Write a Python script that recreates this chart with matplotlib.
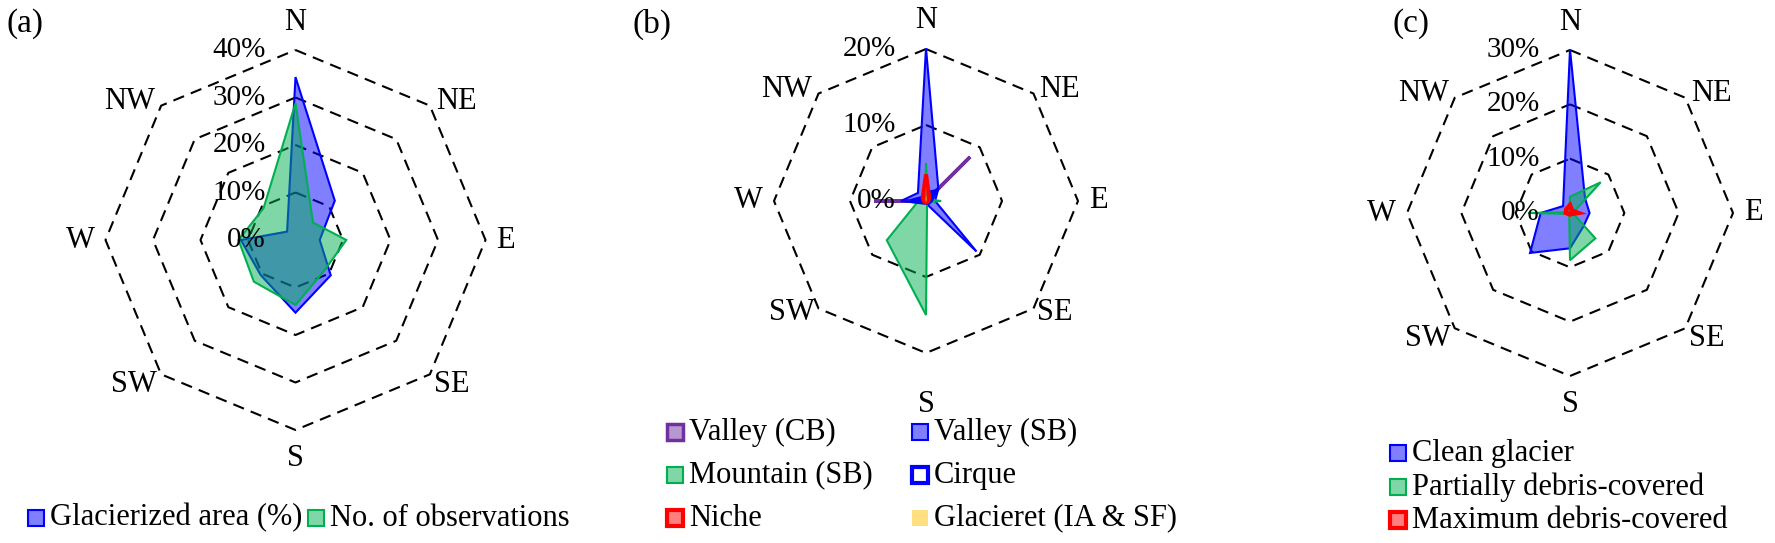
import numpy as np
import matplotlib
matplotlib.use("Agg")
import matplotlib.pyplot as plt
from matplotlib.patches import Rectangle

plt.rcParams['font.family'] = ['Liberation Serif', 'DejaVu Serif']

# ---------------- data ----------------
directions = ["N", "NE", "E", "SE", "S", "SW", "W", "NW"]

# panel (a)
a_ticks = [0, 10, 20, 30, 40]
a_glacierized_area = [34.3, 11.7, 5.1, 10.5, 15.3, 10.4, 11.5, 2.5]
a_observations = [28.8, 5.2, 10.7, 8.8, 13.7, 12.4, 12.0, 9.5]
a_series_names = ["Glacierized area (%)", "No. of observations"]

# panel (b)
b_ticks = [0, 10, 20]
b_valley_cb = [0.0, 8.2, 0.0, 0.0, 0.0, 0.0, 6.8, 0.0]
b_valley_sb = [20.1, 2.3, 1.2, 9.4, 0.3, 0.4, 3.3, 1.5]
b_mountain_sb = [5.0, 0.3, 2.0, 0.2, 15.0, 7.3, 1.0, 0.2]
b_cirque = [1.0, 1.8, 0.6, 0.4, 0.2, 0.3, 2.0, 0.6]
b_niche = [3.5, 0.6, 0.3, 0.2, 0.2, 0.2, 0.3, 0.6]
b_glacieret = [2.0, 0.2, 0.1, 0.1, 0.1, 0.1, 0.1, 0.2]
b_series_names = ["Valley (CB)", "Valley (SB)", "Mountain (SB)", "Cirque",
                  "Niche", "Glacieret (IA & SF)"]

# panel (c)
c_ticks = [0, 10, 20, 30]
c_clean = [30.1, 3.9, 3.6, 3.5, 6.5, 10.4, 5.4, 1.8]
c_partial = [3.0, 8.0, 0.5, 6.6, 8.7, 0.2, 7.7, 0.2]
c_maximum = [1.5, 0.6, 1.6, 0.3, 0.3, 0.3, 0.8, 1.0]
c_series_names = ["Clean glacier", "Partially debris-covered", "Maximum debris-covered"]

# ---------------- style ----------------
BLUE = "#0000FF"
GREEN = "#00B050"
PURPLE = "#7030A0"
RED = "#FF0000"
YELLOW = "#FFC000"

W, H = 1775, 543
fig = plt.figure(figsize=(W / 100, H / 100), dpi=100)

theta = np.deg2rad(np.arange(len(directions)) * 45.0)


def closed_xy(vals):
    v = np.asarray(vals, dtype=float)
    x = v * np.sin(theta)
    y = v * np.cos(theta)
    return np.append(x, x[0]), np.append(y, y[0])


def make_panel(cx, cy, vmax, rpx, hw):
    k = rpx / vmax
    ax = fig.add_axes([(cx - hw) / W, 0, 2 * hw / W, 1])
    ax.set_xlim(-hw / k, hw / k)
    ax.set_ylim(-(H - cy) / k, cy / k)
    ax.axis('off')
    return ax


BASE_OFFS = {
    "N": ((0, 28), 'center', 'center'),
    "NE": ((6, 4), 'left', 'center'),
    "E": ((11, 0), 'left', 'center'),
    "SE": ((4, -10), 'left', 'center'),
    "S": ((0, -28), 'center', 'center'),
    "SW": ((-4, -10), 'right', 'center'),
    "W": ((-11, 0), 'right', 'center'),
    "NW": ((-6, 4), 'right', 'center'),
}


def draw_grid(ax, ticks, override=None):
    offs = dict(BASE_OFFS)
    if override:
        offs.update(override)
    for t in ticks[1:]:
        x, y = closed_xy([t] * len(directions))
        ax.plot(x, y, color='black', lw=1.5, ls=(0, (5.5, 3.5)), zorder=1)
    vmax = ticks[-1]
    px = 0.72
    for d, th in zip(directions, theta):
        (ox, oy), ha, va = offs[d]
        ax.annotate(d, xy=(vmax * np.sin(th), vmax * np.cos(th)),
                    xytext=(ox * px, oy * px), textcoords='offset points',
                    ha=ha, va=va, fontsize=22, zorder=5)
    for t in ticks:
        ax.annotate(f"{t}%", xy=(0, t), xytext=(-30 * px, 0),
                    textcoords='offset points', ha='right', va='center',
                    fontsize=21, zorder=5)


def series(ax, vals, color, lw=1.5, alpha=0.5, fill=True, edge=True, z=2):
    x, y = closed_xy(vals)
    fc = matplotlib.colors.to_rgba(color, alpha) if fill else 'none'
    ec = color if edge else 'none'
    ax.fill(x, y, facecolor=fc, edgecolor=ec, linewidth=lw if edge else 0,
            joinstyle='miter', zorder=z)


def legend_item(x, y, label, fc, ec, lw, size=16):
    rect = Rectangle(((x - size / 2) / W, 1 - (y + size / 2) / H), size / W, size / H,
                     transform=fig.transFigure, facecolor=fc, edgecolor=ec,
                     linewidth=lw, zorder=5)
    fig.add_artist(rect)
    fig.text((x + size / 2 + 6) / W, 1 - y / H, label, ha='left', va='center',
             fontsize=22)


def light(color, alpha=0.5):
    return matplotlib.colors.to_rgba(color, alpha)


# ---------------- panel (a) ----------------
axa = make_panel(295.5, 240, a_ticks[-1], 190, 295)
draw_grid(axa, a_ticks)
series(axa, a_glacierized_area, BLUE, z=2)
series(axa, a_observations, GREEN, z=3)
fig.text(6 / W, 1 - 24 / H, "(a)", ha='left', va='center', fontsize=24)
legend_item(36, 518, a_series_names[0], light(BLUE), BLUE, 1.5)
legend_item(316, 518, a_series_names[1], light(GREEN), GREEN, 1.5)

# ---------------- panel (b) ----------------
axb = make_panel(926, 201, b_ticks[-1], 152, 300)
draw_grid(axb, b_ticks, override={
    "S": ((0, -52), 'center', 'center'),
    "SE": ((4, -4), 'left', 'center'),
    "SW": ((-4, -4), 'right', 'center'),
})
series(axb, b_valley_cb, PURPLE, lw=2.5, z=2)
series(axb, b_valley_sb, BLUE, z=3)
series(axb, b_mountain_sb, GREEN, z=4)
series(axb, b_cirque, BLUE, lw=3, fill=False, z=4.5)
series(axb, b_niche, RED, lw=3, z=4.6)
series(axb, b_glacieret, YELLOW, edge=False, z=4.7)
fig.text(633 / W, 1 - 24 / H, "(b)", ha='left', va='center', fontsize=24)
b_leg = [
    (675, 432, b_series_names[0], light(PURPLE), PURPLE, 2.5),
    (920, 432, b_series_names[1], light(BLUE), BLUE, 1.5),
    (675, 475, b_series_names[2], light(GREEN), GREEN, 1.5),
    (920, 475, b_series_names[3], 'white', BLUE, 3),
    (675, 518, b_series_names[4], light(RED), RED, 3),
    (920, 518, b_series_names[5], light(YELLOW), 'none', 0),
]
for item in b_leg:
    legend_item(*item)

# ---------------- panel (c) ----------------
axc = make_panel(1570, 213, c_ticks[-1], 163, 205)
draw_grid(axc, c_ticks)
series(axc, c_clean, BLUE, z=2)
series(axc, c_partial, GREEN, z=3)
series(axc, c_maximum, RED, lw=3, z=4)
fig.text(1392 / W, 1 - 24 / H, "(c)", ha='left', va='center', fontsize=24)
legend_item(1398, 453, c_series_names[0], light(BLUE), BLUE, 1.5)
legend_item(1398, 487, c_series_names[1], light(GREEN), GREEN, 1.5)
legend_item(1398, 520, c_series_names[2], light(RED), RED, 3)

fig.savefig("out.png", dpi=100)
